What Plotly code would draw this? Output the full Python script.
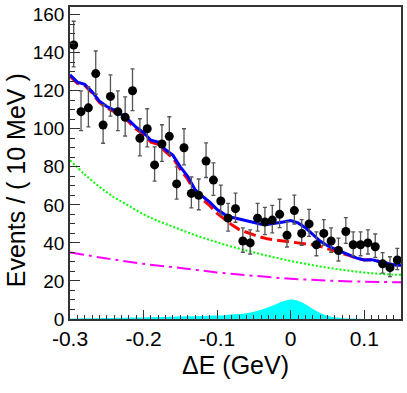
import numpy as np
import plotly.graph_objects as go

# Data points: events per 10 MeV bin, bin centres from -0.295 to 0.145 GeV
bin_centers = np.round(np.arange(-0.295, 0.15, 0.01), 3)
counts = [144, 109, 111, 129, 102, 117, 109, 106, 120, 95,
          100, 81, 92, 96, 71, 90, 66, 65, 83, 73,
          62, 53, 58, 41, 40, 53, 51, 52, 55, 44,
          57, 45, 50, 39, 45, 41, 36, 46, 39, 39,
          40, 38, 29, 27, 31]

# Fit curves sampled every 10 MeV
curve_x = np.round(np.arange(-0.30, 0.1501, 0.01), 3)
total_fit = [128.4, 124.5, 123.3, 119.5, 114.5, 111.7, 109.8, 107.5, 104.5, 100.8,
             98.0, 94.0, 93.0, 89.0, 86.0, 80.0, 75.0, 68.0, 64.5, 61.5,
             57.5, 55.0, 53.5, 52.5, 51.5, 50.5, 49.8, 49.8, 50.3, 51.0,
             51.7, 50.5, 48.0, 44.5, 41.0, 38.5, 36.8, 35.2, 33.5, 32.0,
             31.0, 31.2, 30.2, 29.2, 28.5, 28.3]
background = [127.6, 123.8, 122.8, 118.8, 113.8, 111.0, 109.0, 106.6, 103.6, 99.8,
              97.0, 93.0, 91.8, 87.8, 84.6, 78.6, 73.5, 66.5, 62.8, 59.6,
              55.5, 52.5, 49.5, 47.0, 45.5, 44.2, 43.0, 42.0, 41.5, 41.0,
              40.6, 40.2, 39.6, 39.0, 38.2, 37.0, 35.9, 34.8, 33.3, 31.9,
              31.0, 31.2, 30.2, 29.2, 28.5, 28.3]
signal = [0.3, 0.3, 0.35, 0.4, 0.45, 0.5, 0.55, 0.6, 0.7, 0.75,
          0.8, 0.9, 1.0, 1.1, 1.2, 1.3, 1.4, 1.5, 1.6, 1.7,
          1.8, 2.0, 2.3, 2.6, 3.0, 3.8, 4.9, 6.3, 7.8, 9.3,
          10.3, 9.6, 7.8, 5.3, 3.2, 1.7, 0.9, 0.4, 0.2, 0.1,
          0.05, 0.03, 0.02, 0.01, 0.01, 0.0]

# Smooth background components
green_x = [-0.30, -0.28, -0.26, -0.24, -0.22, -0.20, -0.18, -0.16, -0.14, -0.12,
           -0.10, -0.08, -0.06, -0.04, -0.02, 0.00, 0.02, 0.04, 0.06, 0.08,
           0.10, 0.12, 0.14, 0.15]
green_y = [83.5, 76.0, 69.5, 64.0, 59.5, 55.0, 51.5, 48.5, 45.5, 42.8,
           40.3, 38.0, 36.0, 34.0, 32.2, 30.5, 29.0, 27.6, 26.4, 25.3,
           24.4, 23.8, 23.3, 23.2]
magenta_x = [-0.30, -0.25, -0.20, -0.15, -0.10, -0.05, 0.00, 0.05, 0.10, 0.15]
magenta_y = [35.0, 31.8, 29.0, 26.8, 24.5, 22.7, 21.2, 20.2, 19.6, 19.3]

x_tickvals = [-0.3, -0.2, -0.1, 0.0, 0.1]
x_ticktext = ["-0.3", "-0.2", "-0.1", "0", "0.1"]

# Poisson (asymmetric) errors on the counts
n = np.array(counts, dtype=float)
err_up = np.sqrt(n + 0.25) + 0.5
err_dn = np.sqrt(n + 0.25) - 0.5

font = "Liberation Sans, Arial, Helvetica, sans-serif"

fig = go.Figure()

fig.add_trace(go.Scatter(
    x=curve_x, y=signal, mode="lines", fill="tozeroy",
    fillcolor="#00ffff", line=dict(color="#00ffff", width=0, shape="spline"),
))
fig.add_trace(go.Scatter(
    x=magenta_x, y=magenta_y, mode="lines",
    line=dict(color="#ff00ff", width=2, dash="14px,5px,3px,5px", shape="spline"),
))
fig.add_trace(go.Scatter(
    x=green_x, y=green_y, mode="lines",
    line=dict(color="#00ff00", width=2, dash="2px,2px", shape="spline"),
))
fig.add_trace(go.Scatter(
    x=curve_x, y=background, mode="lines",
    line=dict(color="#ff0000", width=3, dash="12px,5px"),
))
fig.add_trace(go.Scatter(
    x=curve_x, y=total_fit, mode="lines",
    line=dict(color="#0000ff", width=3),
))
fig.add_trace(go.Scatter(
    x=bin_centers, y=counts, mode="markers",
    marker=dict(color="black", size=9),
    error_y=dict(type="data", symmetric=False, array=err_up, arrayminus=err_dn,
                 color="#555555", thickness=1.3, width=2),
))

fig.update_layout(
    width=407, height=393,
    margin=dict(l=70, r=6, t=7, b=74),
    paper_bgcolor="white", plot_bgcolor="white",
    showlegend=False,
    font=dict(family=font, color="black"),
    xaxis=dict(
        range=[-0.3, 0.15], showgrid=False, zeroline=False, automargin=False,
        showline=True, linecolor="#333333", linewidth=1.5, mirror=True,
        ticks="inside", ticklen=9, tickcolor="#333333",
        tickvals=x_tickvals, ticktext=x_ticktext,
        tickfont=dict(size=21),
        minor=dict(dtick=0.01, tick0=0, ticks="inside", ticklen=4,
                   tickcolor="#333333", showgrid=False),
        title=dict(text="ΔE (GeV)", font=dict(size=25), standoff=8),
    ),
    yaxis=dict(
        range=[0, 164], showgrid=False, zeroline=False, automargin=False,
        showline=True, linecolor="#333333", linewidth=1.5, mirror=True,
        ticks="inside", ticklen=10, tickcolor="#333333",
        tick0=0, dtick=20, tickfont=dict(size=19),
        minor=dict(dtick=5, ticks="inside", ticklen=5,
                   tickcolor="#333333", showgrid=False),
    ),
)

# y title sits a little below the axis centre, as in the original
fig.add_annotation(
    text="Events / ( 10 MeV )", textangle=-90, showarrow=False,
    xref="paper", yref="paper", x=-0.163, y=0.445,
    xanchor="center", yanchor="middle", borderpad=0,
    font=dict(size=25),
)

# drop the default page margin so the figure sits at the window's corner
fig.write_html("out.html", config={"displayModeBar": False},
               post_script="document.body.style.margin='0';")
